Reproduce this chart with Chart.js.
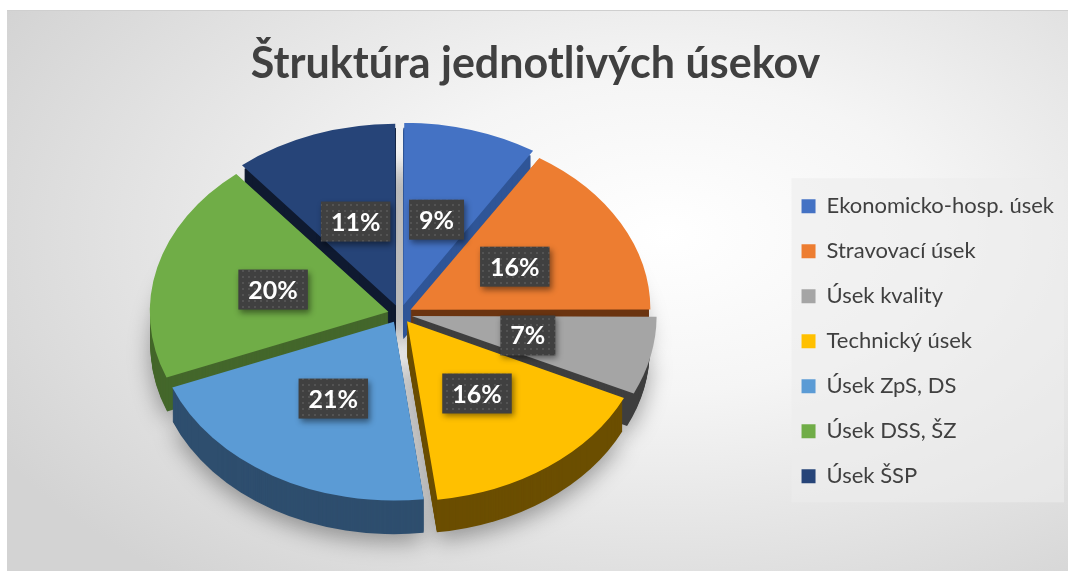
<!DOCTYPE html>
<html lang="sk">
<head>
<meta charset="UTF-8">
<title>Štruktúra jednotlivých úsekov</title>
<script src="https://cdn.jsdelivr.net/npm/chart.js"></script>
<style>
  html, body { margin: 0; padding: 0; background: #fff; }
  body { width: 1068px; height: 578px; overflow: hidden; position: relative; }
  .card {
    position: absolute; left: 7px; top: 10px; width: 1061px; height: 560px;
    background: radial-gradient(ellipse 72% 80% at 62% 40%, #ffffff 0%, #f5f5f5 35%, #d3d3d3 100%);
    border-top: 1px solid #cfcfcf;
  }
  canvas { position: absolute; left: 0; top: 0; }
</style>
</head>
<body>
<div class="card"><canvas id="chart" width="1061" height="560"></canvas></div>

<script>
  const categories = ["Ekonomicko-hosp. úsek", "Stravovací úsek", "Úsek kvality", "Technický úsek", "Úsek ZpS, DS", "Úsek DSS, ŠZ", "Úsek ŠSP"];
  const shares = [9, 16, 7, 16, 21, 20, 11];
  const colors = ["#4472C4", "#ED7D31", "#A5A5A5", "#FFC000", "#5B9BD5", "#70AD47", "#264478"];
  const sideColors = ["#2F5597", "#6B3410", "#3F3F3F", "#6B4E00", "#2E4E6E", "#44672B", "#0F1A30"];

  // tilt of the pie, depth of the side wall, centre of the top face (canvas px)
  const SQUASH = 0.75;
  const DEPTH = 34;
  const CX = 393, CY = 303;

  // dotted texture for the label boxes
  const dotCanvas = document.createElement("canvas");
  dotCanvas.width = 6; dotCanvas.height = 6;
  const dctx = dotCanvas.getContext("2d");
  dctx.fillStyle = "rgba(255,255,255,0.10)";
  dctx.fillRect(1, 1, 2, 2);

  function slicePath(ctx, arc, dy) {
    const p = arc.getProps(["x", "y", "startAngle", "endAngle", "outerRadius"], true);
    const off = (arc.options.offset || 0) / 4;
    const mid = (p.startAngle + p.endAngle) / 2;
    const cx = p.x + Math.cos(mid) * off;
    const cy = p.y + Math.sin(mid) * off + dy;
    ctx.beginPath();
    ctx.moveTo(cx, cy);
    ctx.arc(cx, cy, p.outerRadius, p.startAngle, p.endAngle);
    ctx.closePath();
  }

  const legendBox = {
    id: "legendBox",
    beforeDraw(chart) {
      const boxes = chart.legend && chart.legend.legendHitBoxes;
      if (!boxes || !boxes.length) return;
      const left = Math.min(...boxes.map(b => b.left)) - 10;
      const right = Math.max(...boxes.map(b => b.left + b.width)) + 10;
      const top = Math.min(...boxes.map(b => b.top)) - 17;
      const bottom = Math.max(...boxes.map(b => b.top + b.height)) + 15;
      const ctx = chart.ctx;
      ctx.save();
      ctx.fillStyle = "rgba(236,236,236,0.6)";
      ctx.fillRect(left, top, right - left, bottom - top);
      ctx.restore();
    }
  };

  const pie3d = {
    id: "pie3d",
    beforeDatasetsDraw(chart) {
      const ctx = chart.ctx;
      const arcs = chart.getDatasetMeta(0).data;
      const x0 = arcs[0].x, y0 = arcs[0].y;

      // side walls, stacked from the bottom up
      ctx.save();
      ctx.translate(CX, CY);
      ctx.scale(1, SQUASH);
      ctx.translate(-x0, -y0);
      for (let d = DEPTH; d >= 1; d--) {
        arcs.forEach((arc, i) => {
          ctx.save();
          if (d === DEPTH) {
            ctx.shadowColor = "rgba(0,0,0,0.35)";
            ctx.shadowBlur = 22;
            ctx.shadowOffsetY = 8;
          }
          slicePath(ctx, arc, d / SQUASH);
          ctx.fillStyle = sideColors[i];
          ctx.fill();
          ctx.restore();
        });
      }
      ctx.restore();

      // top faces are drawn by Chart.js inside this transform
      ctx.save();
      ctx.translate(CX, CY);
      ctx.scale(1, SQUASH);
      ctx.translate(-x0, -y0);
    },
    afterDatasetsDraw(chart) {
      const ctx = chart.ctx;
      ctx.restore();

      const arcs = chart.getDatasetMeta(0).data;
      const total = shares.reduce((a, b) => a + b, 0);
      const dots = ctx.createPattern(dotCanvas, "repeat");
      arcs.forEach((arc, i) => {
        const p = arc.getProps(["startAngle", "endAngle", "outerRadius"], true);
        const off = (arc.options.offset || 0) / 4;
        const mid = (p.startAngle + p.endAngle) / 2;
        const r = p.outerRadius * 0.5 + off;
        const lx = CX + Math.cos(mid) * r;
        const ly = CY + Math.sin(mid) * r * SQUASH;
        const text = Math.round(shares[i] / total * 100) + "%";
        ctx.save();
        ctx.font = "bold 25px Lato";
        const w = ctx.measureText(text).width + 20;
        const h = 40;
        ctx.shadowColor = "rgba(0,0,0,0.45)";
        ctx.shadowBlur = 6;
        ctx.shadowOffsetX = 2;
        ctx.shadowOffsetY = 3;
        ctx.fillStyle = "#404040";
        ctx.fillRect(lx - w / 2, ly - h / 2, w, h);
        ctx.shadowColor = "transparent";
        ctx.fillStyle = dots;
        ctx.fillRect(lx - w / 2, ly - h / 2, w, h);
        ctx.fillStyle = "#ffffff";
        ctx.textAlign = "center";
        ctx.textBaseline = "middle";
        ctx.fillText(text, lx, ly + 1);
        ctx.restore();
      });
    }
  };

  new Chart(document.getElementById("chart"), {
    type: "pie",
    data: {
      labels: categories,
      datasets: [{
        data: shares,
        backgroundColor: colors,
        borderWidth: 0,
        offset: 48,
        radius: 238
      }]
    },
    options: {
      responsive: false,
      animation: false,
      rotation: 0,
      layout: { padding: { right: 4 } },
      plugins: {
        title: {
          display: true,
          text: "Štruktúra jednotlivých úsekov",
          color: "#404040",
          font: { family: "Lato", size: 43, weight: "bold" },
          padding: { top: 27, bottom: 22 }
        },
        legend: {
          position: "right",
          fullSize: false,
          labels: {
            color: "#404040",
            font: { family: "Lato", size: 22 },
            boxWidth: 14,
            boxHeight: 14,
            padding: 23
          }
        },
        tooltip: { enabled: false }
      }
    },
    plugins: [legendBox, pie3d]
  });
</script>
</body>
</html>
